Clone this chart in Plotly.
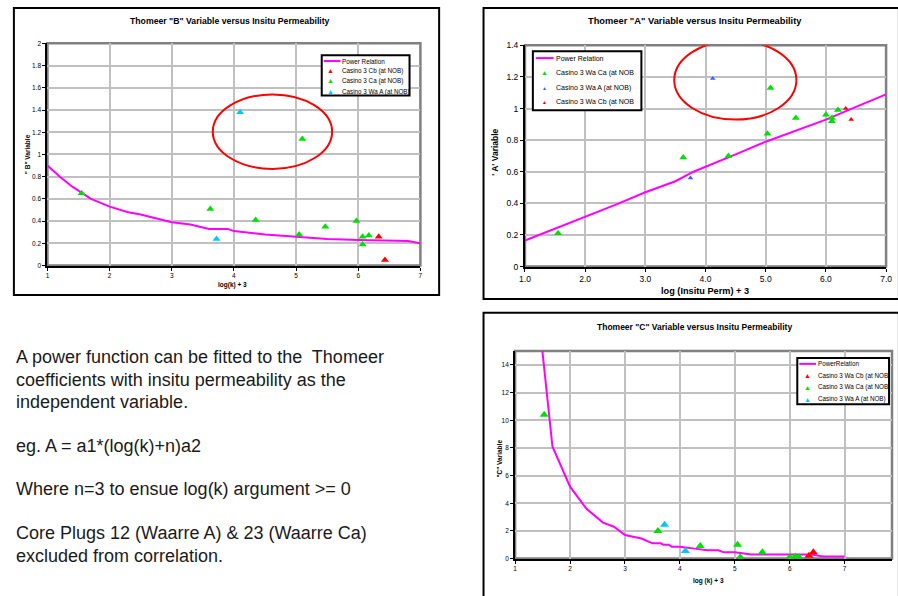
import plotly.graph_objects as go

W, H = 898, 596
def px(x): return x / W
def py(y): return 1 - y / H

FONT = "Liberation Sans, Arial, sans-serif"
MAG = "#ff00ff"; GREEN = "#00e000"; RED = "#ff0000"; CYAN = "#00c8ff"; BLUE = "#3366ff"

# ---------------- Data: Thomeer "B" ----------------
b_pow_x = [1.0, 1.2, 1.4, 1.7, 2.0, 2.3, 2.5, 2.8, 3.0, 3.3, 3.6, 3.9, 4.0, 4.5, 5.0, 5.5, 6.0, 6.5, 6.8, 7.0]
b_pow_y = [0.90, 0.80, 0.71, 0.60, 0.53, 0.48, 0.46, 0.42, 0.39, 0.37, 0.33, 0.33, 0.31, 0.28, 0.26, 0.24, 0.23, 0.22, 0.22, 0.20]
b_cb_x = [6.33, 6.43]; b_cb_y = [0.26, 0.05]
b_ca_x = [1.55, 3.62, 4.35, 5.05, 5.10, 5.47, 5.97, 6.07, 6.07, 6.17]
b_ca_y = [0.65, 0.51, 0.41, 0.28, 1.14, 0.35, 0.40, 0.26, 0.19, 0.27]
b_a_x = [3.72, 4.10]; b_a_y = [0.24, 1.38]
b_names = ["Power Relation", "Casino 3 Cb (at NOB)", "Casino 3 Ca (at NOB)", "Casino 3 Wa A (at NOB)"]

# ---------------- Data: Thomeer "A" ----------------
a_pow_x = [1.0, 1.5, 2.0, 2.5, 3.0, 3.5, 3.8, 4.0, 4.5, 5.0, 5.5, 6.0, 6.5, 6.8, 7.0]
a_pow_y = [0.165, 0.24, 0.31, 0.39, 0.47, 0.54, 0.60, 0.63, 0.71, 0.79, 0.86, 0.93, 1.01, 1.06, 1.09]
a_ca_x = [1.55, 3.63, 4.38, 5.03, 5.08, 5.50, 6.00, 6.10, 6.10, 6.20]
a_ca_y = [0.21, 0.69, 0.70, 0.84, 1.13, 0.94, 0.96, 0.94, 0.92, 0.99]
a_a_x = [3.75, 4.12]; a_a_y = [0.56, 1.19]
a_cb_x = [6.33, 6.42]; a_cb_y = [1.00, 0.93]
a_names = ["Power Relation", "Casino 3 Wa Ca (at NOB", "Casino 3 Wa A (at NOB)", "Casino 3 Wa Cb (at NOB"]

# ---------------- Data: Thomeer "C" ----------------
c_pow_x = [1.47, 1.68, 2.0, 2.3, 2.6, 2.8, 3.0, 3.3, 3.5, 3.65, 3.7, 3.8, 3.85, 4.0, 4.3, 4.5, 4.7, 4.8, 5.0, 5.3, 6.0, 6.4, 6.6, 7.0]
c_pow_y = [16.0, 8.1, 5.2, 3.6, 2.6, 2.3, 1.7, 1.45, 1.1, 1.1, 1.0, 1.0, 0.85, 0.85, 0.7, 0.6, 0.6, 0.45, 0.45, 0.3, 0.3, 0.3, 0.15, 0.15]
c_cb_x = [6.35, 6.43]; c_cb_y = [0.2, 0.45]
c_ca_x = [1.53, 3.60, 4.37, 5.05, 5.10, 5.50, 6.00, 6.10, 6.17]
c_ca_y = [10.4, 2.0, 0.9, 1.0, 0.1, 0.45, 0.1, 0.15, 0.1]
c_a_x = [3.72, 4.10]; c_a_y = [2.45, 0.55]
c_names = ["PowerRelation", "Casino 3 Wa Cb (at NOB)", "Casino 3 Wa Ca (at NOB)", "Casino 3 Wa A (at NOB)"]

text_lines = [
    "A power function can be fitted to the  Thomeer",
    "coefficients with insitu permeability as the",
    "independent variable.",
    "eg. A = a1*(log(k)+n)a2",
    "Where n=3 to ensue log(k) argument >= 0",
    "Core Plugs 12 (Waarre A) & 23 (Waarre Ca)",
    "excluded from correlation.",
]
text_ys = [358, 381, 404, 449, 492, 537, 560]

fig = go.Figure()

def line(x, y, xa, ya):
    fig.add_trace(go.Scatter(x=x, y=y, mode="lines", line=dict(color=MAG, width=2),
                             xaxis=xa, yaxis=ya, showlegend=False, hoverinfo="skip"))

def pts(x, y, color, size, xa, ya):
    fig.add_trace(go.Scatter(x=x, y=y, mode="markers",
                             marker=dict(symbol="triangle-up", color=color, size=size, line=dict(width=0)),
                             xaxis=xa, yaxis=ya, showlegend=False))

line(b_pow_x, b_pow_y, "x", "y")
pts(b_cb_x, b_cb_y, RED, 7, "x", "y")
pts(b_ca_x, b_ca_y, GREEN, 7, "x", "y")
pts(b_a_x, b_a_y, CYAN, 7, "x", "y")

line(a_pow_x, a_pow_y, "x2", "y2")
pts(a_ca_x, a_ca_y, GREEN, 7, "x2", "y2")
pts(a_a_x, a_a_y, BLUE, 5, "x2", "y2")
pts(a_cb_x, a_cb_y, RED, 5, "x2", "y2")

line(c_pow_x, c_pow_y, "x3", "y3")
pts(c_cb_x, c_cb_y, RED, 8, "x3", "y3")
pts(c_ca_x, c_ca_y, GREEN, 8, "x3", "y3")
pts(c_a_x, c_a_y, CYAN, 8, "x3", "y3")

def ax(domain, rng, dtick, fsize, anchor, fmt=None):
    d = dict(domain=domain, range=rng, dtick=dtick, tick0=0 if dtick != 1 else 1, anchor=anchor,
             showline=True, linecolor="black", linewidth=2, ticks="outside", ticklen=3,
             tickcolor="black", tickwidth=1, showgrid=True, gridcolor="#c0c0c0", gridwidth=1.5,
             zeroline=False, tickfont=dict(size=fsize, family=FONT, color="black"))
    if fmt:
        d["tickformat"] = fmt
    return d

layout = dict(
    width=W, height=H, margin=dict(l=0, r=0, t=0, b=0),
    paper_bgcolor="white", plot_bgcolor="white", showlegend=False,
    xaxis=ax([px(42), px(420)], [1, 7], 1, 6.5, "y"),
    yaxis=ax([py(265), py(39)], [0, 2], 0.2, 6.5, "x"),
    xaxis2=ax([px(526), px(892)], [1, 7], 1, 8.5, "y2", ".1f"),
    yaxis2=ax([py(266), py(41)], [0, 1.4], 0.2, 8.5, "x2"),
    xaxis3=ax([px(516), 1.0], [1, 1 + (898 - 516) / 55.67], 1, 6.5, "y3"),
    yaxis3=ax([py(563), py(352)], [0, 15], 2, 6.5, "x3"),
)
fig.update_layout(**layout)

shapes = []
ann = []

# outer boxes
shapes.append(dict(type="rect", xref="paper", yref="paper", x0=px(8), x1=px(439), y0=py(295), y1=py(3),
                   line=dict(color="black", width=2)))
shapes.append(dict(type="rect", xref="paper", yref="paper", x0=px(484), x1=px(905), y0=py(299), y1=py(3),
                   line=dict(color="black", width=2)))
shapes.append(dict(type="rect", xref="paper", yref="paper", x0=px(484), x1=px(905), y0=py(605), y1=py(313),
                   line=dict(color="black", width=2)))

# plot area borders (gray)
for xa, ya in [("x", "y"), ("x2", "y2"), ("x3", "y3")]:
    shapes.append(dict(type="rect", xref=xa + " domain", yref=ya + " domain", x0=0, x1=1, y0=0, y1=1,
                       line=dict(color="#808080", width=2.5), layer="below"))

# ellipses
shapes.append(dict(type="circle", xref="x", yref="y", x0=3.66, x1=5.58, y0=0.87, y1=1.54,
                   line=dict(color=RED, width=2)))
shapes.append(dict(type="circle", xref="x2", yref="y2", x0=3.48, x1=5.51, y0=0.93, y1=1.43,
                   line=dict(color=RED, width=2)))

def txt(x, y, s, size, bold=False, xanchor="center", angle=0, color="black"):
    ann.append(dict(x=px(x), y=py(y), xref="paper", yref="paper", text=("<b>%s</b>" % s) if bold else s,
                    showarrow=False, xanchor=xanchor, yanchor="middle", textangle=angle,
                    font=dict(size=size, family=FONT, color=color)))

# titles
txt(227, 16, 'Thomeer "B" Variable versus Insitu Permeability', 8.7, True)
txt(698, 16, 'Thomeer "A" Variable versus Insitu Permeability', 9.3, True)
txt(698, 327, 'Thomeer "C" Variable versus Insitu Permeability', 8.5, True)
txt(230, 285, "log(k) + 3", 6.5, True)
txt(708, 291, "log (Insitu Perm) + 3", 9.2, True)
txt(712, 586, "log (k) + 3", 6.5, True)
txt(22, 152, '" B" Variable', 6.5, True, angle=-90)
txt(496, 150, "' A' Variable", 8.5, True, angle=-90)
txt(500, 461, '"C" Variable', 6.5, True, angle=-90)

# legends
def legend(box, lx0, lx1, mx, tx, ys, names, colors, msizes, fsize):
    shapes.append(dict(type="rect", xref="paper", yref="paper", x0=px(box[0]), x1=px(box[1]),
                       y0=py(box[3]), y1=py(box[2]), line=dict(color="black", width=2),
                       fillcolor="white"))
    shapes.append(dict(type="line", xref="paper", yref="paper", x0=px(lx0), x1=px(lx1),
                       y0=py(ys[0]), y1=py(ys[0]), line=dict(color=MAG, width=2)))
    for i, (nm, y) in enumerate(zip(names, ys)):
        txt(tx, y, nm, fsize, xanchor="left")
        if i > 0:
            txt(mx, y, "▲", msizes[i - 1], color=colors[i - 1])

legend((320, 409, 51, 92), 322, 339, 329, 339, [57, 67, 77, 88], b_names, [RED, GREEN, CYAN], [7, 7, 7], 6.3)
legend((534, 644, 47, 107), 537, 555, 546, 555, [54, 69, 84, 99], a_names, [GREEN, BLUE, RED], [7, 5, 5], 7)
legend((802, 895, 359, 406), 804, 821, 812, 821, [365, 377, 389, 401], c_names, [RED, GREEN, CYAN], [7, 7, 7], 6.3)

# body text
for s, y in zip(text_lines, text_ys):
    ann.append(dict(x=px(8), y=py(y), xref="paper", yref="paper", text=s, showarrow=False,
                    xanchor="left", yanchor="middle", font=dict(size=18, family=FONT, color="#1a1a1a")))

fig.update_layout(shapes=shapes, annotations=ann)
fig.write_html("out.html")
